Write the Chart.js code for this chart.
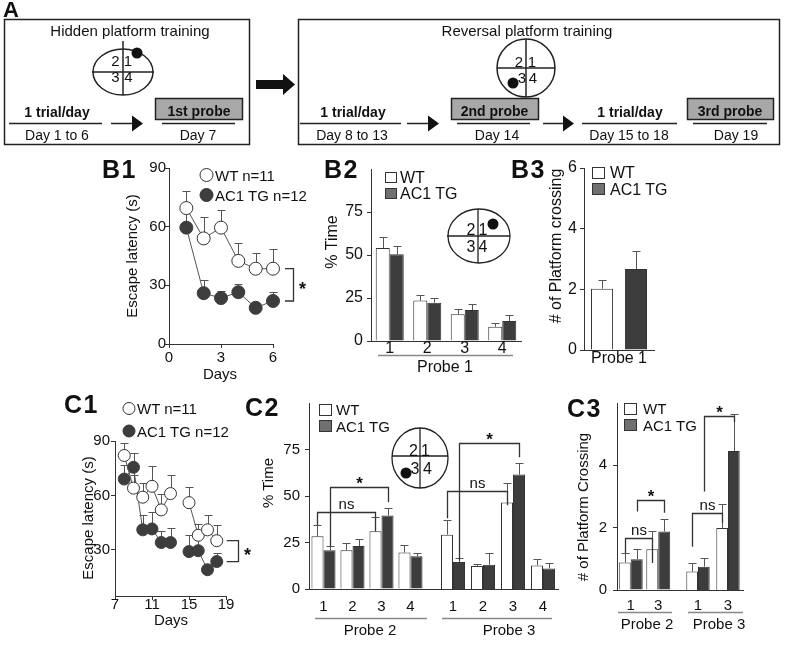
<!DOCTYPE html>
<html>
<head>
<meta charset="utf-8">
<title>Water maze training</title>
<script src="https://cdn.jsdelivr.net/npm/chart.js@4.4.1/dist/chart.umd.min.js"></script>
<style>
  body { margin: 0; background: #fff; }
  #page { position: relative; width: 785px; height: 648px; overflow: hidden; background: #fff; }
  canvas { position: absolute; }
  #deco { position: absolute; left: 0; top: 0; pointer-events: none; }
  #deco text { font-family: "Liberation Sans", Arial, sans-serif; fill: #111; }
</style>
</head>
<body>
<div id="page">
  <canvas id="b1"></canvas>
  <canvas id="b2"></canvas>
  <canvas id="b3"></canvas>
  <canvas id="c1"></canvas>
  <canvas id="c2a"></canvas>
  <canvas id="c2b"></canvas>
  <canvas id="c3a"></canvas>
  <canvas id="c3b"></canvas>

  <svg id="deco" width="785" height="648">
    <!-- panel A -->
    <text x="3" y="17" font-size="22" font-weight="bold">A</text>
    <g stroke="#222" stroke-width="1.5" fill="none">
      <rect x="4.5" y="19.5" width="245" height="125"/>
      <rect x="298.5" y="19.5" width="481" height="125"/>
      <ellipse cx="123" cy="72" rx="30" ry="23"/>
      <line x1="123" y1="41" x2="123" y2="95"/>
      <line x1="92" y1="72" x2="154" y2="72"/>
      <circle cx="526" cy="68" r="29"/>
      <line x1="526" y1="39" x2="526" y2="97"/>
      <line x1="497" y1="68" x2="555" y2="68"/>
      <line x1="9" y1="123.5" x2="102" y2="123.5"/>
      <line x1="162" y1="123.5" x2="235" y2="123.5"/>
      <line x1="300" y1="123.5" x2="401" y2="123.5"/>
      <line x1="457" y1="123.5" x2="530" y2="123.5"/>
      <line x1="582" y1="123.5" x2="677" y2="123.5"/>
      <line x1="693" y1="123.5" x2="767" y2="123.5"/>
      <line x1="111" y1="123.5" x2="133" y2="123.5"/>
      <line x1="407" y1="123.5" x2="429" y2="123.5"/>
      <line x1="543" y1="123.5" x2="564" y2="123.5"/>
    </g>
    <g fill="#111">
      <polygon points="132,115.5 143,123.5 132,131.5"/>
      <polygon points="428,115.5 439,123.5 428,131.5"/>
      <polygon points="563,115.5 574,123.5 563,131.5"/>
      <polygon points="256,80 283,80 283,74 295,84.5 283,95 283,89 256,89"/>
      <circle cx="137" cy="53" r="5.5"/>
      <circle cx="513" cy="83" r="5.5"/>
    </g>
    <g fill="#a8a8a8" stroke="#222" stroke-width="1.5">
      <rect x="155.5" y="98.5" width="87" height="21"/>
      <rect x="451.5" y="98.5" width="87" height="21"/>
      <rect x="687.5" y="98.5" width="86" height="21"/>
    </g>
    <g font-size="15" text-anchor="middle" dominant-baseline="central">
      <text x="130" y="30">Hidden platform training</text>
      <text x="527" y="30">Reversal platform training</text>
    </g>
    <g font-size="15" text-anchor="middle" dominant-baseline="central">
      <text x="115.5" y="60">2</text><text x="128" y="60">1</text>
      <text x="115.5" y="76">3</text><text x="128.5" y="76">4</text>
      <text x="519" y="61">2</text><text x="532" y="61">1</text>
      <text x="522" y="77">3</text><text x="533" y="77">4</text>
    </g>
    <g font-size="14" text-anchor="middle" dominant-baseline="central">
      <text x="57" y="134.5">Day 1 to 6</text>
      <text x="198" y="134.5">Day 7</text>
      <text x="352" y="134.5">Day 8 to 13</text>
      <text x="497" y="134.5">Day 14</text>
      <text x="629" y="134.5">Day 15 to 18</text>
      <text x="736" y="134.5">Day 19</text>
    </g>
    <g font-size="14" font-weight="bold" text-anchor="middle" dominant-baseline="central">
      <text x="57" y="111.5">1 trial/day</text>
      <text x="353" y="111.5">1 trial/day</text>
      <text x="630" y="111.5">1 trial/day</text>
      <text x="199" y="110.5">1st probe</text>
      <text x="494.5" y="110.5">2nd probe</text>
      <text x="730" y="110.5">3rd probe</text>
    </g>

    <!-- panel letters -->
    <g font-size="25" font-weight="bold" dominant-baseline="central" letter-spacing="1.5">
      <text x="102" y="169">B1</text>
      <text x="324" y="169">B2</text>
      <text x="511" y="169">B3</text>
      <text x="64" y="404">C1</text>
      <text x="245" y="407">C2</text>
      <text x="567" y="408">C3</text>
    </g>

    <!-- axis titles -->
    <g text-anchor="middle" dominant-baseline="central">
      <text font-size="15" transform="translate(131,256) rotate(-90)">Escape latency (s)</text>
      <text font-size="15" x="220" y="373">Days</text>
      <text font-size="16" transform="translate(331,242) rotate(-90)">% Time</text>
      <text font-size="16" x="445" y="366">Probe 1</text>
      <text font-size="16" transform="translate(555,246) rotate(-90)"># of Platform crossing</text>
      <text font-size="15" transform="translate(87,518) rotate(-90)">Escape latency (s)</text>
      <text font-size="15" x="171" y="619">Days</text>
      <text font-size="15" transform="translate(267,483) rotate(-90)">% Time</text>
      <text font-size="15" x="370" y="629">Probe 2</text>
      <text font-size="15" x="509" y="629">Probe 3</text>
      <text font-size="15" transform="translate(582,507) rotate(-90)"># of Platform Crossing</text>
      <text font-size="15" x="647" y="623">Probe 2</text>
      <text font-size="15" x="719" y="623">Probe 3</text>
    </g>
    <g stroke="#888" stroke-width="1.5">
      <line x1="378" y1="355.5" x2="513" y2="355.5"/>
      <line x1="315" y1="618.5" x2="427" y2="618.5"/>
      <line x1="442" y1="618.5" x2="552" y2="618.5"/>
      <line x1="618" y1="612.5" x2="672" y2="612.5"/>
      <line x1="688" y1="612.5" x2="743" y2="612.5"/>
    </g>

    <!-- maze insets -->
    <g stroke="#222" stroke-width="1.3" fill="none">
      <ellipse cx="479" cy="236" rx="31" ry="27"/>
      <line x1="447" y1="236" x2="510" y2="236"/>
      <line x1="478" y1="209" x2="478" y2="263"/>
      <ellipse cx="420" cy="458" rx="28" ry="30"/>
      <line x1="392" y1="456" x2="448" y2="456"/>
      <line x1="420" y1="428" x2="420" y2="488"/>
    </g>
    <g fill="#111">
      <circle cx="493" cy="224" r="5.5"/>
      <circle cx="406" cy="473" r="5.5"/>
    </g>
    <g font-size="16" text-anchor="middle" dominant-baseline="central">
      <text x="471" y="229">2</text><text x="483" y="229">1</text>
      <text x="471" y="246">3</text><text x="483" y="246">4</text>
      <text x="413.5" y="450.5">2</text><text x="425.5" y="450.5">1</text>
      <text x="415" y="468.5">3</text><text x="427.5" y="468.5">4</text>
    </g>

    <!-- legends -->
    <g stroke="#333" stroke-width="1">
      <circle cx="206.5" cy="175" r="6.5" fill="#fff"/>
      <circle cx="206.5" cy="195" r="6.5" fill="#3d3d3d"/>
      <circle cx="129" cy="408.5" r="6" fill="#fff"/>
      <circle cx="129" cy="431" r="6" fill="#3d3d3d"/>
      <rect x="385.5" y="172.5" width="11" height="10" fill="#fff"/>
      <rect x="385.5" y="188.5" width="11" height="10" fill="#707070"/>
      <rect x="592.5" y="167.5" width="12" height="11" fill="#fff"/>
      <rect x="592.5" y="183.5" width="12" height="11" fill="#707070"/>
      <rect x="319.5" y="404.5" width="12" height="11" fill="#fff"/>
      <rect x="319.5" y="420.5" width="12" height="11" fill="#707070"/>
      <rect x="624.5" y="403.5" width="12" height="11" fill="#fff"/>
      <rect x="624.5" y="419.5" width="12" height="11" fill="#707070"/>
    </g>
    <g dominant-baseline="central">
      <text font-size="15" x="215" y="175">WT n=11</text>
      <text font-size="15" x="215" y="195">AC1 TG n=12</text>
      <text font-size="15" x="137" y="408.5">WT n=11</text>
      <text font-size="15" x="137" y="431">AC1 TG n=12</text>
      <text font-size="16" x="400" y="177">WT</text>
      <text font-size="16" x="400" y="193">AC1 TG</text>
      <text font-size="16" x="610" y="172.5">WT</text>
      <text font-size="16" x="610" y="189">AC1 TG</text>
      <text font-size="15" x="336" y="409.5">WT</text>
      <text font-size="15" x="336" y="426">AC1 TG</text>
      <text font-size="15" x="643" y="408.5">WT</text>
      <text font-size="15" x="643" y="425">AC1 TG</text>
    </g>
  </svg>
</div>

<script>
// ---- data ----
// B1: escape latency, hidden platform (days 1-6)
const b1Days = [1, 2, 3, 4, 5, 6];
const b1WT = [69.5, 54, 59.5, 42.5, 38.5, 38.5];
const b1WTErr = [8.5, 11, 9, 9, 8, 10];
const b1TG = [59.5, 26, 23.5, 26.5, 18.5, 22];
const b1TGErr = [9, 6.5, 3.5, 4, 1.5, 4.5];

// B2: % time per quadrant, probe 1
const quadrants = ['1', '2', '3', '4'];
const b2WT = [54, 23.5, 15.5, 8.3];
const b2WTErr = [6.4, 3.5, 2.9, 2.3];
const b2TG = [50.4, 22.3, 18, 11.6];
const b2TGErr = [5, 2.5, 3.7, 3.5];

// B3: platform crossings, probe 1
const b3Labels = ['Probe 1'];
const b3WT = [2.02];
const b3WTErr = [0.28];
const b3TG = [2.67];
const b3TGErr = [0.6];

// C1: escape latency, reversal training (no training on day 14)
const c1Days = [8, 9, 10, 11, 12, 13, 14, 15, 16, 17, 18];
const c1WT = [82, 64, 59, 65, 52, 61, null, 56, 38, 41, 35];
const c1WTErr = [7, 7, 8, 11, 9, 10, null, 8.5, 6, 8, 8.5];
const c1TG = [69, 75.5, 41, 41.5, 34, 34, null, 29, 29.5, 19, 23.5];
const c1TGErr = [8, 8, 8, 9.5, 6.5, 8, null, 9, 8.5, 2, 4.5];

// C2: % time per quadrant, probes 2 and 3
const c2P2WT = [28.3, 20.8, 31, 19.6];
const c2P2WTErr = [6, 4, 7.7, 3.9];
const c2P2TG = [20.8, 23.1, 39.5, 17.6];
const c2P2TGErr = [2.2, 3.6, 4.3, 2];
const c2P3WT = [29.2, 12.4, 46.5, 12.7];
const c2P3WTErr = [8.1, 1.2, 10.7, 3.6];
const c2P3TG = [14.5, 13.1, 61.5, 11];
const c2P3TGErr = [2.4, 6.5, 6.3, 2.8];

// C3: platform crossings, quadrants 1 and 3, probes 2 and 3
const c3Quadrants = ['1', '3'];
const c3P2WT = [0.88, 1.31];
const c3P2WTErr = [0.3, 0.57];
const c3P2TG = [0.99, 1.88];
const c3P2TGErr = [0.33, 0.4];
const c3P3WT = [0.59, 1.99];
const c3P3WTErr = [0.27, 0.78];
const c3P3TG = [0.75, 4.46];
const c3P3TGErr = [0.29, 1.18];

// significance brackets: [dataset, index] ends, bar level, leg ends (values)
const c2P2Marks = [
  { from: [0, 0], to: [0, 2], level: 41.3, ends: [34.3, 31], text: 'ns' },
  { from: [1, 0], to: [1, 2], level: 54.7, ends: [23, 46.6], text: '*' }
];
const c2P3Marks = [
  { from: [0, 0], to: [0, 2], level: 52.6, ends: [38, 45], text: 'ns' },
  { from: [1, 0], to: [1, 2], level: 78.4, ends: [15.4, 70.8], text: '*' }
];
const c3P2Marks = [
  { from: [0, 0], to: [0, 1], level: 1.68, ends: [1.19, 0.87], text: 'ns' },
  { from: [1, 0], to: [1, 1], level: 2.9, ends: [2.52, 2.48], text: '*' }
];
const c3P3Marks = [
  { from: [0, 0], to: [0, 1], level: 2.48, ends: [1.39, 2.16], text: 'ns' },
  { from: [1, 0], to: [1, 1], level: 5.58, ends: [3.16, 5.39], text: '*' }
];

// ---- styling ----
const FONT = '"Liberation Sans", Arial, sans-serif';
const INK = '#333';
const TG_FILL = '#3d3d3d';
const ERR = '#555';

Chart.defaults.font.family = FONT;
Chart.defaults.font.size = 15;
Chart.defaults.color = '#111';
Chart.defaults.animation = false;
Chart.defaults.plugins.legend.display = false;
Chart.defaults.plugins.tooltip.enabled = false;

// upward error bars with a cap
const errorBars = {
  id: 'errorBars',
  beforeDatasetsDraw(chart) {
    const ctx = chart.ctx, y = chart.scales.y;
    ctx.save();
    ctx.strokeStyle = ERR;
    ctx.lineWidth = 1;
    chart.data.datasets.forEach((ds, i) => {
      if (!ds.errors) return;
      chart.getDatasetMeta(i).data.forEach((el, j) => {
        const v = ds.data[j];
        const val = v !== null && typeof v === 'object' ? v.y : v;
        const e = ds.errors[j];
        if (val == null || e == null) return;
        const x = Math.round(el.x) + 0.5;
        const y0 = y.getPixelForValue(val);
        const y1 = Math.round(y.getPixelForValue(val + e)) + 0.5;
        ctx.beginPath();
        ctx.moveTo(x, y0); ctx.lineTo(x, y1);
        ctx.moveTo(x - 4, y1); ctx.lineTo(x + 4, y1);
        ctx.stroke();
      });
    });
    ctx.restore();
  }
};

// comparison brackets over bars
const brackets = {
  id: 'brackets',
  afterDatasetsDraw(chart, args, opts) {
    if (!opts.items) return;
    const ctx = chart.ctx, y = chart.scales.y;
    ctx.save();
    ctx.strokeStyle = INK;
    ctx.lineWidth = 1.3;
    ctx.fillStyle = '#111';
    ctx.textAlign = 'center';
    ctx.textBaseline = 'alphabetic';
    opts.items.forEach(b => {
      const x1 = Math.round(chart.getDatasetMeta(b.from[0]).data[b.from[1]].x) + 0.5;
      const x2 = Math.round(chart.getDatasetMeta(b.to[0]).data[b.to[1]].x) + 0.5;
      const yl = Math.round(y.getPixelForValue(b.level)) + 0.5;
      ctx.beginPath();
      ctx.moveTo(x1, y.getPixelForValue(b.ends[0]));
      ctx.lineTo(x1, yl);
      ctx.lineTo(x2, yl);
      ctx.lineTo(x2, y.getPixelForValue(b.ends[1]));
      ctx.stroke();
      if (b.text === '*') {
        ctx.font = 'bold 17px ' + FONT;
        ctx.fillText('*', (x1 + x2) / 2, yl + 1);
      } else {
        ctx.font = '15px ' + FONT;
        ctx.fillText(b.text, (x1 + x2) / 2, yl - 4);
      }
    });
    ctx.restore();
  }
};

// "]" bracket with star to the right of the last points
const sideBracket = {
  id: 'sideBracket',
  afterDatasetsDraw(chart, args, o) {
    if (!o.gap) return;
    const ctx = chart.ctx;
    const pa = chart.getDatasetMeta(0).data.at(-1);
    const pb = chart.getDatasetMeta(1).data.at(-1);
    const x0 = pa.x + o.gap, x1 = Math.round(x0 + o.width) + 0.5;
    ctx.save();
    ctx.strokeStyle = INK;
    ctx.lineWidth = 1.3;
    ctx.beginPath();
    ctx.moveTo(x0, pa.y); ctx.lineTo(x1, pa.y); ctx.lineTo(x1, pb.y); ctx.lineTo(x0, pb.y);
    ctx.stroke();
    ctx.fillStyle = '#111';
    ctx.font = 'bold 18px ' + FONT;
    ctx.textAlign = 'center';
    ctx.textBaseline = 'middle';
    ctx.fillText('*', x1 + o.star, (pa.y + pb.y) / 2 + 5);
    ctx.restore();
  }
};

// continue the x axis line leftwards across the gap between probe groups
const axisLead = {
  id: 'axisLead',
  afterDraw(chart, args, o) {
    if (!o.on) return;
    const ctx = chart.ctx, s = chart.scales.x;
    const yy = Math.round(s.top - 0.5) + 0.5;
    ctx.save();
    ctx.strokeStyle = INK;
    ctx.lineWidth = 1;
    ctx.beginPath();
    ctx.moveTo(0, yy); ctx.lineTo(chart.chartArea.left, yy);
    ctx.stroke();
    ctx.restore();
  }
};

Chart.register(errorBars, brackets, sideBracket, axisLead);

// place a chart so its plot area lands on [L, T, R, B] of the page
function place(id, box, area, config) {
  const [cx, cy, cw, ch] = box, [L, T, R, B] = area;
  const cv = document.getElementById(id);
  cv.width = cw; cv.height = ch;
  cv.style.left = cx + 'px'; cv.style.top = cy + 'px';
  cv.style.width = cw + 'px'; cv.style.height = ch + 'px';
  const o = config.options;
  o.responsive = false;
  o.maintainAspectRatio = false;
  const yShown = o.scales.y.display !== false;
  o.layout = { padding: { left: yShown ? 0 : L - cx, top: T - cy, right: cx + cw - R, bottom: 0 } };
  if (yShown) o.scales.y.afterFit = s => { s.width = L - cx; };
  o.scales.x.afterFit = s => { s.height = cy + ch - B; };
  return new Chart(cv, config);
}

function yAxis(max, step, size, pad, hideMax) {
  return {
    min: 0, max: max,
    border: { color: INK, width: 1 },
    grid: {
      drawOnChartArea: false, tickLength: 4,
      color: c => ((hideMax && c.tick && c.tick.value === max) ? 'rgba(0,0,0,0)' : INK)
    },
    ticks: {
      stepSize: step, padding: pad, font: { size: size },
      callback: v => ((hideMax && v === max) ? '' : v)
    }
  };
}

function barX(size, pad) {
  return {
    border: { color: INK, width: 1 },
    grid: { display: false, drawTicks: false },
    ticks: { padding: pad, font: { size: size }, autoSkip: false, maxRotation: 0 }
  };
}

function lineSets(xs, wt, wtErr, tg, tgErr, r) {
  const pts = arr => xs.map((d, i) => ({ x: d, y: arr[i] }));
  return [
    { data: pts(wt), errors: wtErr, borderColor: '#555', borderWidth: 1, pointRadius: r,
      pointBackgroundColor: '#fff', pointBorderColor: INK, pointBorderWidth: 1, clip: false, spanGaps: false },
    { data: pts(tg), errors: tgErr, borderColor: '#555', borderWidth: 1, pointRadius: r,
      pointBackgroundColor: TG_FILL, pointBorderColor: TG_FILL, pointBorderWidth: 1, clip: false, spanGaps: false }
  ];
}

function barSets(wt, wtErr, tg, tgErr, cat, bar) {
  const base = { borderColor: INK, borderWidth: 1, categoryPercentage: cat, barPercentage: bar };
  return [
    Object.assign({ data: wt, errors: wtErr, backgroundColor: '#fff' }, base),
    Object.assign({ data: tg, errors: tgErr, backgroundColor: TG_FILL }, base)
  ];
}

function lineX(min, max, step, pad) {
  return {
    type: 'linear', min: min, max: max,
    border: { color: INK, width: 1 },
    grid: { drawOnChartArea: false, tickLength: 4, color: INK },
    ticks: { stepSize: step, padding: pad, font: { size: 15 } }
  };
}

// ---- B1 ----
place('b1', [100, 150, 220, 230], [169, 168, 273, 344], {
  type: 'line',
  data: { datasets: lineSets(b1Days, b1WT, b1WTErr, b1TG, b1TGErr, 6.5) },
  options: {
    scales: { x: lineX(0, 6, 3, 1), y: yAxis(90, 30, 15, -1, false) },
    plugins: { sideBracket: { gap: 12, width: 8, star: 9 } }
  }
});

// ---- B2 ----
place('b2', [320, 150, 210, 230], [371, 169, 521, 341], {
  type: 'bar',
  data: { labels: quadrants, datasets: barSets(b2WT, b2WTErr, b2TG, b2TGErr, 0.747, 1) },
  options: { scales: { x: barX(16, -2), y: yAxis(100, 25, 16, 4, true) } }
});

// ---- B3 ----
place('b3', [530, 150, 140, 230], [584, 168, 654, 350], {
  type: 'bar',
  data: { labels: b3Labels, datasets: barSets(b3WT, b3WTErr, b3TG, b3TGErr, 0.97, 0.65) },
  options: { scales: { x: barX(16, -1), y: yAxis(6, 2, 16, 3, false) } }
});

// ---- C1 ----
// the y axis stops a little above zero in the original; only 30/60/90 are labelled
const c1Y = Object.assign(yAxis(90, 30, 15, 1, false), {
  min: 4.5,
  afterBuildTicks: s => { s.ticks = s.ticks.filter(t => t.value >= 30); }
});
place('c1', [40, 380, 215, 268], [115, 441, 226, 596], {
  type: 'line',
  data: { datasets: lineSets(c1Days, c1WT, c1WTErr, c1TG, c1TGErr, 6) },
  options: {
    scales: { x: lineX(7, 19, 4, -4), y: c1Y },
    plugins: { sideBracket: { gap: 10, width: 11, star: 9 } }
  }
});

// ---- C2 ----
place('c2a', [250, 385, 175, 263], [309, 403, 425, 589], {
  type: 'bar',
  data: { labels: quadrants, datasets: barSets(c2P2WT, c2P2WTErr, c2P2TG, c2P2TGErr, 0.83, 1) },
  options: {
    scales: { x: barX(15, 9), y: yAxis(100, 25, 15, 5, true) },
    plugins: { brackets: { items: c2P2Marks } }
  }
});
place('c2b', [425, 385, 135, 263], [438, 403, 558, 589], {
  type: 'bar',
  data: { labels: quadrants, datasets: barSets(c2P3WT, c2P3WTErr, c2P3TG, c2P3TGErr, 0.8, 1) },
  options: {
    scales: { x: barX(15, 9), y: Object.assign(yAxis(100, 25, 15, 5, true), { display: false }) },
    plugins: { brackets: { items: c2P3Marks }, axisLead: { on: true } }
  }
});

// ---- C3 ----
place('c3a', [560, 385, 112, 263], [617, 403, 672, 590], {
  type: 'bar',
  data: { labels: c3Quadrants, datasets: barSets(c3P2WT, c3P2WTErr, c3P2TG, c3P2TGErr, 0.87, 1) },
  options: {
    scales: { x: barX(15, 7), y: yAxis(6, 2, 15, 6, true) },
    plugins: { brackets: { items: c3P2Marks } }
  }
});
place('c3b', [672, 385, 113, 263], [683, 403, 743, 590], {
  type: 'bar',
  data: { labels: c3Quadrants, datasets: barSets(c3P3WT, c3P3WTErr, c3P3TG, c3P3TGErr, 0.78, 1) },
  options: {
    scales: { x: barX(15, 7), y: Object.assign(yAxis(6, 2, 15, 6, true), { display: false }) },
    plugins: { brackets: { items: c3P3Marks }, axisLead: { on: true } }
  }
});
</script>
</body>
</html>
